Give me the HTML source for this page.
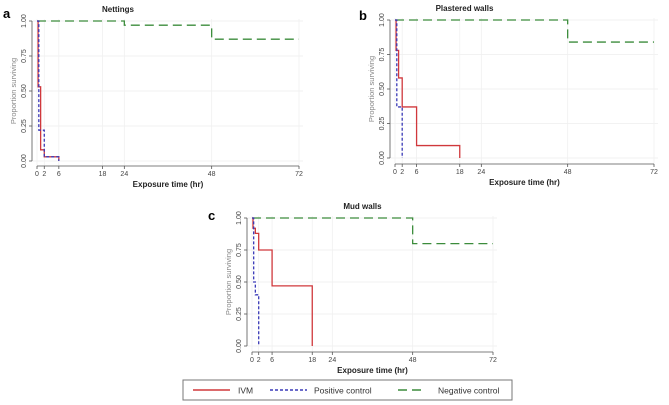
<!DOCTYPE html>
<html><head><meta charset="utf-8"><style>
html,body{margin:0;padding:0;background:#fff;}
svg{display:block;font-family:"Liberation Sans",sans-serif;}
</style></head><body>
<svg id="fig" width="669" height="405" viewBox="0 0 669 405"></svg>
<script>
const xTicks=[0,2,6,18,24,48,72];
const yTicks=[0,0.25,0.5,0.75,1];
const yTickLabels=["0.00","0.25","0.50","0.75","1.00"];
// step series: times and survival values
const aIvmT=[0,0.3,1,2,6], aIvmS=[1,0.53,0.08,0.03,0];
const aPosT=[0,0.5,2,6], aPosS=[1,0.22,0.03,0];
const aNegT=[0,24,48,72], aNegS=[1,0.97,0.87,0.87];
const bIvmT=[0,0.3,1,2,6,18], bIvmS=[1,0.78,0.58,0.37,0.09,0];
const bPosT=[0,0.5,2], bPosS=[1,0.37,0];
const bNegT=[0,48,72], bNegS=[1,0.84,0.84];
const cIvmT=[0,0.3,1,2,6,18], cIvmS=[1,0.92,0.88,0.75,0.47,0];
const cPosT=[0,0.5,1,2], cPosS=[1,0.5,0.4,0];
const cNegT=[0,48,72], cNegS=[1,0.8,0.8];

const NS="http://www.w3.org/2000/svg";
const svg=document.getElementById('fig');
function mk(tag,at,parent){const e=document.createElementNS(NS,tag);for(const k in at)e.setAttribute(k,at[k]);(parent||svg).appendChild(e);return e;}

const panels=[
 {id:'a',title:'Nettings',x0:37,x1:299,yTop:21,yBot:161,axX:32,axY:166,lab:[3,18],
  series:[[aNegT,aNegS,'neg'],[aIvmT,aIvmS,'ivm'],[aPosT,aPosS,'pos']]},
 {id:'b',title:'Plastered walls',x0:395,x1:654,yTop:20,yBot:158,axX:390,axY:164,lab:[359,20],
  series:[[bNegT,bNegS,'neg'],[bIvmT,bIvmS,'ivm'],[bPosT,bPosS,'pos']]},
 {id:'c',title:'Mud walls',x0:252,x1:493,yTop:218,yBot:346,axX:247,axY:352,lab:[208,220],
  series:[[cNegT,cNegS,'neg'],[cIvmT,cIvmS,'ivm'],[cPosT,cPosS,'pos']]}
];
const styles={ivm:{stroke:'#d0383c',dash:''},pos:{stroke:'#3a3ab8',dash:'3,2'},neg:{stroke:'#3c8c3c',dash:'9,5'}};

panels.forEach(p=>{
  const g=mk('g',{});
  
  
  const sx=t=>p.x0+(p.x1-p.x0)*t/72;
  const sy=v=>p.yBot-(p.yBot-p.yTop)*v;
  yTicks.forEach(v=>{const l=mk('line',{x1:p.axX,x2:p.x1+4,y1:sy(v),y2:sy(v),stroke:'#eeeeee','stroke-width':0.8},g);
    });
  xTicks.forEach(t=>{const l=mk('line',{x1:sx(t),x2:sx(t),y1:p.yTop-2,y2:p.axY,stroke:'#f0f0f0','stroke-width':0.8},g);
    });
  const ya=mk('line',{x1:p.axX,x2:p.axX,y1:p.yTop,y2:p.yBot,stroke:'#555','stroke-width':0.8},g);
  
  const xa=mk('line',{x1:p.x0,x2:p.x1,y1:p.axY,y2:p.axY,stroke:'#555','stroke-width':0.8},g);
  
  yTicks.forEach((v,i)=>{
    mk('line',{x1:p.axX-3,x2:p.axX,y1:sy(v),y2:sy(v),stroke:'#555','stroke-width':0.8},g);
    const t=mk('text',{x:0,y:0,transform:`translate(${p.axX-6},${sy(v)}) rotate(-90)`,'text-anchor':'middle','font-size':7,fill:'#444'},g);
    t.textContent=yTickLabels[i];
    
  });
  xTicks.forEach(tk=>{
    mk('line',{x1:sx(tk),x2:sx(tk),y1:p.axY,y2:p.axY+3,stroke:'#555','stroke-width':0.8},g);
    const t=mk('text',{x:sx(tk),y:p.axY+10,'text-anchor':'middle','font-size':7,fill:'#444'},g);
    t.textContent=tk;
    
  });
  const yt=mk('text',{transform:`translate(${p.axX-16},${(p.yTop+p.yBot)/2}) rotate(-90)`,'text-anchor':'middle','font-size':7.5,fill:'#888'},g);
  yt.textContent='Proportion surviving';
  
  const xt=mk('text',{x:(p.x0+p.x1)/2,y:p.axY+21,'text-anchor':'middle','font-size':8,'font-weight':'bold',fill:'#222'},g);
  xt.textContent='Exposure time (hr)';
  
  const ti=mk('text',{x:(p.x0+p.x1)/2-(p.id==='a'?50:(p.id==='b'?60:10)),y:p.yTop-9,'text-anchor':'middle','font-size':8,'font-weight':'bold',fill:'#222'},g);
  ti.textContent=p.title;
  
  const pl=mk('text',{x:p.lab[0],y:p.lab[1],'font-size':13,'font-weight':'bold',fill:'#000'},g);
  pl.textContent=p.id;
  
  p.series.forEach(([T,S,k])=>{
    let d=`M${sx(T[0])},${sy(S[0])}`;
    for(let i=1;i<T.length;i++){d+=` H${sx(T[i])} V${sy(S[i])}`;}
    const st=styles[k];
    const path=mk('path',{d:d,fill:'none',stroke:st.stroke,'stroke-width':1.3,'stroke-dasharray':st.dash},g);
    
    
  });
});

const lg=mk('g',{});


mk('rect',{x:183,y:380,width:329,height:20,fill:'#fff',stroke:'#777','stroke-width':1},lg);
const items=[['ivm','IVM',193,230,238],['pos','Positive control',270,307,314],['neg','Negative control',398,421,438]];
items.forEach(([k,label,a,b,tx])=>{
  const st=styles[k];
  const l=mk('line',{x1:a,x2:b,y1:390,y2:390,stroke:st.stroke,'stroke-width':1.4,'stroke-dasharray':st.dash},lg);
  
  const t=mk('text',{x:tx,y:393.5,'font-size':8.5,fill:'#333'},lg);
  t.textContent=label;
  
});
</script>
</body></html>
